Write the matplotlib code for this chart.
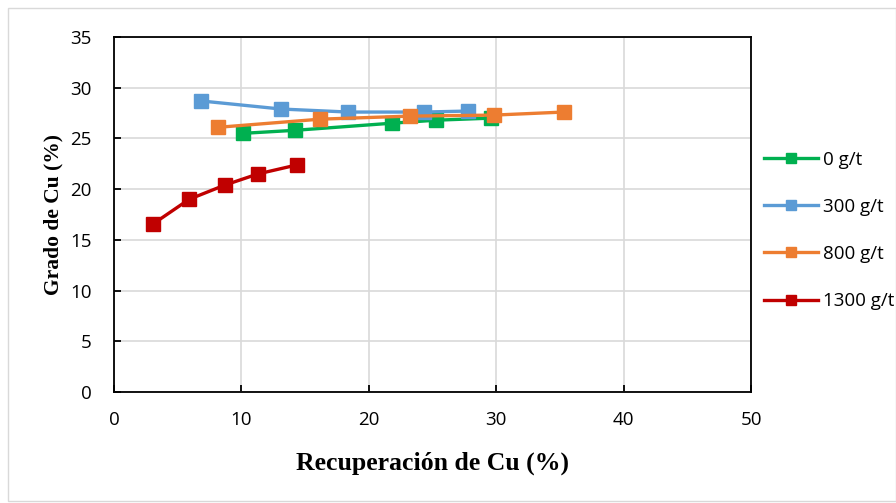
import matplotlib
matplotlib.use("Agg")
import matplotlib.pyplot as plt
from matplotlib.patches import Rectangle

# Recovery (%) vs grade (%) for each collector dosage
rec_0 = [10.1, 14.2, 21.8, 25.3, 29.6]
grade_0 = [25.5, 25.8, 26.5, 26.8, 27.0]

rec_300 = [6.8, 13.1, 18.4, 24.3, 27.8]
grade_300 = [28.7, 27.9, 27.6, 27.6, 27.7]

rec_800 = [8.2, 16.2, 23.2, 29.8, 35.3]
grade_800 = [26.1, 26.9, 27.2, 27.3, 27.6]

rec_1300 = [3.1, 5.9, 8.7, 11.3, 14.4]
grade_1300 = [16.6, 19.0, 20.4, 21.5, 22.4]

labels = ["0 g/t", "300 g/t", "800 g/t", "1300 g/t"]
colors = ["#00b050", "#5b9bd5", "#ed7d31", "#c00000"]

x_ticks = [0, 10, 20, 30, 40, 50]
y_ticks = [0, 5, 10, 15, 20, 25, 30, 35]

W, H = 896, 503
fig = plt.figure(figsize=(W / 100, H / 100), dpi=100)
fig.patch.set_facecolor("white")
fig.patches.append(Rectangle((8 / W, 2 / H), (W - 8) / W, (H - 10) / H,
                             transform=fig.transFigure, fill=False,
                             edgecolor="#d9d9d9", linewidth=1.0))

ax = fig.add_axes([114 / W, (H - 392) / H, (751 - 114) / W, (392 - 37) / H])

series = [(rec_0, grade_0), (rec_300, grade_300), (rec_800, grade_800), (rec_1300, grade_1300)]
handles = []
for (xs, ys), lab, col in zip(series, labels, colors):
    h, = ax.plot(xs, ys, color=col, linewidth=2.4, marker="s", markersize=10,
                 markeredgecolor=col, markerfacecolor=col, label=lab, zorder=3)
    handles.append(h)

ax.set_xlim(0, 50)
ax.set_ylim(0, 35)
ax.set_xticks(x_ticks)
ax.set_yticks(y_ticks)
ax.grid(True, color="#d9d9d9", linewidth=1.2)
ax.set_axisbelow(True)
for s in ax.spines.values():
    s.set_color("black")
    s.set_linewidth(1.3)
ax.tick_params(axis="both", direction="in", length=5, width=1.3, color="black",
               labelsize=13.5)
ax.tick_params(axis="y", pad=16)
ax.tick_params(axis="x", pad=14)
for lbl in ax.get_xticklabels() + ax.get_yticklabels():
    lbl.set_fontfamily("Open Sans")

ax.set_xlabel("Recuperación de Cu (%)", fontsize=18.5, fontweight="bold",
              family="Liberation Serif", labelpad=16)
ax.set_ylabel("Grado de Cu (%)", fontsize=15.5, fontweight="bold",
              family="Liberation Serif", labelpad=5)

leg = fig.legend(handles=handles, labels=labels, loc="upper left",
                 bbox_to_anchor=(747 / W, 1 - 134 / H), frameon=False,
                 prop={"family": "Open Sans", "size": 13.5},
                 handlelength=2.9, handletextpad=0.25, labelspacing=1.55,
                 markerscale=0.75)

fig.savefig("out.png", dpi=100, facecolor="white")
